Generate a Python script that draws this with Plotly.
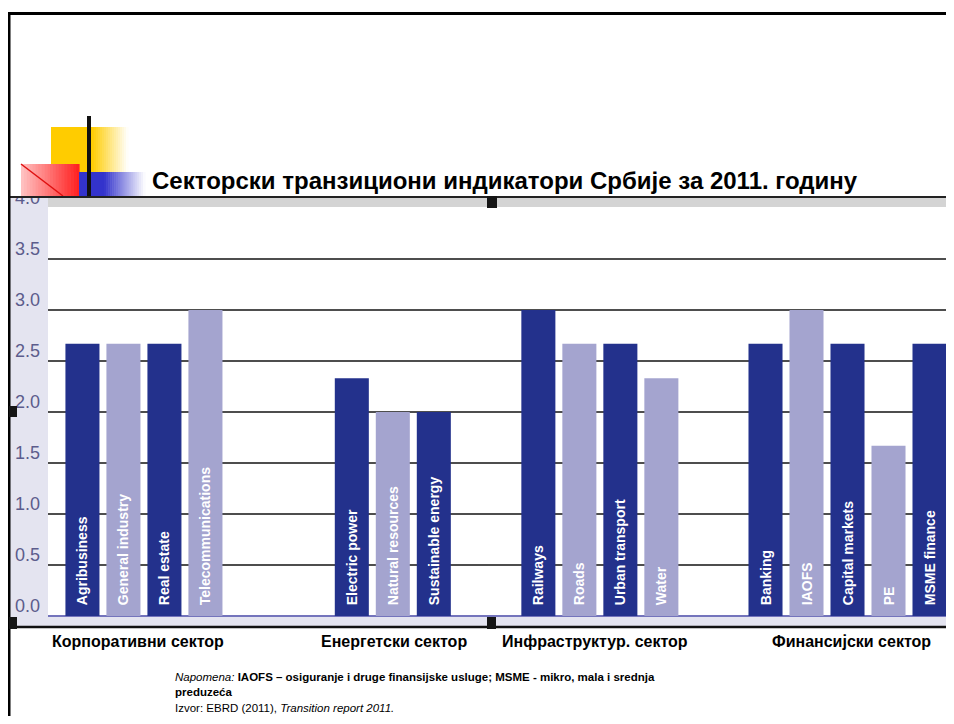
import plotly.graph_objects as go

# ---------------- data ----------------
group_labels = ["Корпоративни сектор", "Енергетски сектор", "Инфраструктур. сектор", "Финансијски сектор"]

corp_names = ["Agribusiness", "General industry", "Real estate", "Telecommunications"]
corp_values = [2.67, 2.67, 2.67, 3.0]

energy_names = ["Electric power", "Natural resources", "Sustainable energy"]
energy_values = [2.33, 2.0, 2.0]

infra_names = ["Railways", "Roads", "Urban transport", "Water"]
infra_values = [3.0, 2.67, 2.67, 2.33]

fin_names = ["Banking", "IAOFS", "Capital markets", "PE", "MSME finance"]
fin_values = [2.67, 3.0, 2.67, 1.67, 2.67]

y_tick_values = [0.0, 0.5, 1.0, 1.5, 2.0, 2.5, 3.0, 3.5, 4.0]
y_tick_labels = ["0.0", "0.5", "1.0", "1.5", "2.0", "2.5", "3.0", "3.5", "4.0"]

title_text = "Секторски транзициони индикатори Србије за 2011. годину"
note_line1 = "<i>Napomena:</i> <b>IAOFS – osiguranje i druge finansijske usluge; MSME - mikro, mala i srednja</b>"
note_line2 = "<b>preduzeća</b>"
source_line = "Izvor: EBRD (2011), <i>Transition report 2011.</i>"

# ---------------- layout helpers ----------------
# the page body has an 8px margin: the figure covers window pixels 8..946 x 8..716
OFF = 8
REF_W, REF_H = 954, 724
W = REF_W - 2 * OFF
H = REF_H - 2 * OFF
def px(x):
    return (x - OFF) / W
def py(y):
    return 1 - (y - OFF) / H

DARK = "#23318c"
LIGHT = "#a4a4cf"

# slot positions of first bar in each group (x axis in slot units of 41 px)
SLOT = 41.0
group_starts = [0.84, 7.41, 11.96, 17.5]
groups = [(corp_names, corp_values), (energy_names, energy_values),
          (infra_names, infra_values), (fin_names, fin_values)]

xs, ys, texts, colors = [], [], [], []
for start, (names, vals) in zip(group_starts, groups):
    for i, (n, v) in enumerate(zip(names, vals)):
        xs.append(start + i)
        ys.append(v)
        texts.append(n)
        colors.append(DARK if i % 2 == 0 else LIGHT)

fig = go.Figure()
fig.add_trace(go.Bar(
    x=xs, y=ys, text=texts, width=0.83,
    marker=dict(color=colors, line=dict(width=0)),
    texttemplate="\u00a0\u00a0%{text}",
    textposition="inside", insidetextanchor="start", textangle=-90,
    textfont=dict(color="white", size=14, family="Liberation Sans, Arial", weight="bold"),
    constraintext="none",
    hoverinfo="skip",
))

shapes = []
# background strips (below plot)
shapes.append(dict(type="rect", xref="paper", yref="paper", layer="below",
                   x0=px(10), x1=px(48), y0=py(627), y1=py(197),
                   fillcolor="#e4e4f0", line=dict(width=0)))
shapes.append(dict(type="rect", xref="paper", yref="paper", layer="below",
                   x0=px(10), x1=1, y0=py(627), y1=py(616),
                   fillcolor="#e4e4f0", line=dict(width=0)))
shapes.append(dict(type="rect", xref="paper", yref="paper", layer="below",
                   x0=px(48), x1=1, y0=py(207), y1=py(198),
                   fillcolor="#d4d4d4", line=dict(width=0)))

# cover above chart image (clips top of "4.0")
shapes.append(dict(type="rect", xref="paper", yref="paper", layer="above",
                   x0=px(9.5), x1=px(48), y0=py(196.5), y1=py(150),
                   fillcolor="white", line=dict(width=0)))

def hexmix(c1, c2, t):
    a = [int(c1[i:i + 2], 16) for i in (1, 3, 5)]
    b = [int(c2[i:i + 2], 16) for i in (1, 3, 5)]
    return "#%02x%02x%02x" % tuple(round(a[k] + (b[k] - a[k]) * t) for k in range(3))

def gradient(x0, x1, y0, y1, c_from, c_to, n):
    step = (x1 - x0) / n
    for k in range(n):
        t = (k + 0.5) / n
        shapes.append(dict(type="rect", xref="paper", yref="paper", layer="above",
                           x0=px(x0 + k * step), x1=px(x0 + (k + 1) * step + 0.6),
                           y0=py(y1), y1=py(y0),
                           fillcolor=hexmix(c_from, c_to, t), line=dict(width=0)))

# yellow square + fade
shapes.append(dict(type="rect", xref="paper", yref="paper", layer="above",
                   x0=px(51), x1=px(92), y0=py(172), y1=py(127),
                   fillcolor="#ffcc00", line=dict(width=0)))
gradient(92, 128, 127, 172, "#ffcc00", "#ffffff", 18)
# red square with gradient
gradient(21, 79, 164, 196, "#ffc4c4", "#ff1e1e", 20)
shapes.append(dict(type="line", xref="paper", yref="paper", layer="above",
                   x0=px(21), x1=px(63), y0=py(164), y1=py(196),
                   line=dict(color="#e01010", width=1.5)))
# blue block + fade
shapes.append(dict(type="rect", xref="paper", yref="paper", layer="above",
                   x0=px(79), x1=px(104), y0=py(196), y1=py(172),
                   fillcolor="#3333cc", line=dict(width=0)))
gradient(104, 145, 172, 196, "#3333cc", "#ffffff", 20)
# black vertical bar
shapes.append(dict(type="line", xref="paper", yref="paper", layer="above",
                   x0=px(89), x1=px(89), y0=py(116), y1=py(196),
                   line=dict(color="#111111", width=4)))

# chart frame lines
shapes.append(dict(type="line", xref="paper", yref="paper", layer="above",
                   x0=px(8), x1=1, y0=py(197), y1=py(197),
                   line=dict(color="#222222", width=2)))
shapes.append(dict(type="line", xref="paper", yref="paper", layer="above",
                   x0=px(8), x1=1, y0=py(627), y1=py(627),
                   line=dict(color="#111111", width=2.5)))
# slide border
shapes.append(dict(type="line", xref="paper", yref="paper", layer="above",
                   x0=px(9), x1=px(9), y0=py(12), y1=0,
                   line=dict(color="black", width=3)))
shapes.append(dict(type="line", xref="paper", yref="paper", layer="above",
                   x0=px(8), x1=1, y0=py(13.5), y1=py(13.5),
                   line=dict(color="black", width=3)))
# selection handles
for (hx0, hx1, hy0, hy1) in [(487, 497, 196, 208), (487, 496, 617, 629),
                             (9, 17, 406, 417), (9, 17, 617, 629)]:
    shapes.append(dict(type="rect", xref="paper", yref="paper", layer="above",
                       x0=px(hx0), x1=px(hx1), y0=py(hy1), y1=py(hy0),
                       fillcolor="#151515", line=dict(width=0)))

annotations = [
    dict(text="<b>" + title_text + "</b>", xref="paper", yref="paper",
         x=px(505), y=py(180), xanchor="center", yanchor="middle", showarrow=False,
         font=dict(size=24, color="black", family="Liberation Sans, Arial")),
]
group_centers = [138, 394, 595, 851]
for lab, cx in zip(group_labels, group_centers):
    annotations.append(dict(text="<b>" + lab + "</b>", xref="paper", yref="paper",
                            x=px(cx), y=py(641), xanchor="center", yanchor="middle",
                            showarrow=False,
                            font=dict(size=16, color="black", family="Liberation Sans, Arial")))
for txt, yy in [(note_line1, 677), (note_line2, 692), (source_line, 708)]:
    annotations.append(dict(text=txt, xref="paper", yref="paper",
                            x=px(173), y=py(yy), xanchor="left", yanchor="middle",
                            showarrow=False,
                            font=dict(size=11.5, color="black", family="Liberation Sans, Arial")))

fig.update_layout(
    width=W, height=H,
    margin=dict(l=0, r=0, t=0, b=0, autoexpand=False),
    paper_bgcolor="white", plot_bgcolor="white",
    showlegend=False,
    shapes=shapes, annotations=annotations,
    xaxis=dict(domain=[px(48), 1], range=[0, (REF_W - OFF - 48) / SLOT],
               showgrid=False, zeroline=False, showticklabels=False, ticks="",
               automargin=False, fixedrange=True),
    yaxis=dict(domain=[py(616), py(208)], range=[0, 4.0],
               tickvals=y_tick_values, ticktext=y_tick_labels,
               showgrid=True, gridcolor="#4e4e4e", gridwidth=2,
               zeroline=True, zerolinecolor="#7474bc", zerolinewidth=2,
               ticks="", ticklabelstandoff=7, ticklabelshift=-10,
               tickfont=dict(size=18, color="#5c5c8c", family="Liberation Sans, Arial"),
               automargin=False, fixedrange=True),
)

fig.write_html("out.html")
